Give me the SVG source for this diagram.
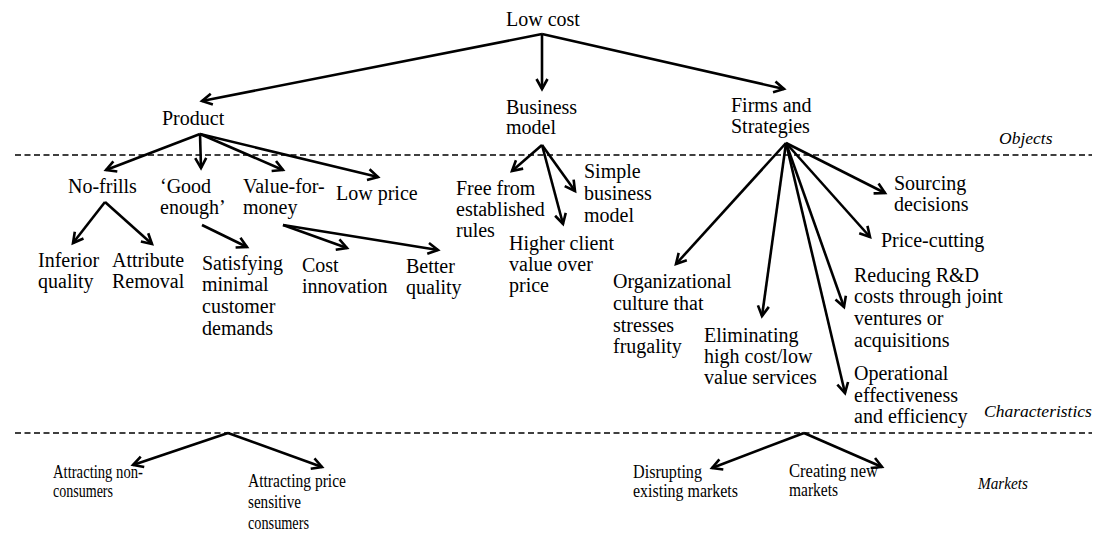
<svg xmlns="http://www.w3.org/2000/svg" width="1097" height="543" viewBox="0 0 1097 543">
<defs>
<style>
text{font-family:"Liberation Serif",serif;font-size:20px;fill:#000}
.it{font-style:italic;font-size:17.5px}
.b{font-size:19px}
.c line{stroke:#000;stroke-width:2.6;marker-end:url(#ah)}
.d{stroke:#000;stroke-width:1.3;stroke-dasharray:6 3.5}
</style>
<marker id="ah" markerUnits="userSpaceOnUse" markerWidth="14" markerHeight="14" refX="11" refY="6" orient="auto" overflow="visible">
<path d="M1,0.5 L11,6 L1,11.5" fill="none" stroke="#000" stroke-width="2.6" stroke-linejoin="miter"/>
</marker>
</defs>
<rect width="1097" height="543" fill="#fff"/>
<line class="d" x1="15" y1="155" x2="1092" y2="155"/>
<line class="d" x1="15" y1="433" x2="1092" y2="433"/>
<g font-family="Liberation Serif, serif">
<g id="lowcost"><text x="506" y="26">Low cost</text></g>
<g id="product"><text x="162" y="125">Product</text></g>
<g id="business"><text x="506" y="114">Business</text><text x="506" y="134">model</text></g>
<g id="firms"><text x="731" y="112">Firms and</text><text x="731" y="133">Strategies</text></g>
<g id="objects"><text class="it" x="999" y="144">Objects</text></g>
<g id="characteristics"><text class="it" x="984" y="417">Characteristics</text></g>
<g id="markets-label"><text class="it" x="978" y="489" textLength="50" lengthAdjust="spacingAndGlyphs">Markets</text></g>
<g id="nofrills"><text x="68" y="193">No-frills</text></g>
<g id="goodenough"><text x="160" y="193">‘Good</text><text x="160" y="214">enough’</text></g>
<g id="valueformoney"><text x="243" y="193">Value-for-</text><text x="243" y="214">money</text></g>
<g id="lowprice"><text x="336" y="200">Low price</text></g>
<g id="inferior"><text x="38" y="267">Inferior</text><text x="38" y="288">quality</text></g>
<g id="attribute"><text x="112" y="267">Attribute</text><text x="112" y="288">Removal</text></g>
<g id="satisfying"><text x="202" y="270">Satisfying</text><text x="202" y="291">minimal</text><text x="202" y="313">customer</text><text x="202" y="335">demands</text></g>
<g id="costinnov"><text x="302" y="272">Cost</text><text x="302" y="293">innovation</text></g>
<g id="better"><text x="406" y="273">Better</text><text x="406" y="294">quality</text></g>
<g id="freefrom"><text x="456" y="195">Free from</text><text x="456" y="216">established</text><text x="456" y="237">rules</text></g>
<g id="simple"><text x="584" y="178">Simple</text><text x="584" y="200">business</text><text x="584" y="222">model</text></g>
<g id="higher"><text x="509" y="250">Higher client</text><text x="509" y="271">value over</text><text x="509" y="292">price</text></g>
<g id="sourcing"><text x="894" y="190">Sourcing</text><text x="894" y="211">decisions</text></g>
<g id="pricecut"><text x="881" y="247">Price-cutting</text></g>
<g id="reducing"><text x="854" y="282">Reducing R&amp;D</text><text x="854" y="303">costs through joint</text><text x="854" y="325">ventures or</text><text x="854" y="347">acquisitions</text></g>
<g id="operational"><text x="854" y="380">Operational</text><text x="854" y="402">effectiveness</text><text x="854" y="423">and efficiency</text></g>
<g id="eliminating"><text x="704" y="342">Eliminating</text><text x="704" y="363">high cost/low</text><text x="704" y="384">value services</text></g>
<g id="organizational"><text x="613" y="288">Organizational</text><text x="613" y="310">culture that</text><text x="613" y="332">stresses</text><text x="613" y="353">frugality</text></g>
<g id="nonconsumers"><text class="b" x="53" y="478" textLength="90" lengthAdjust="spacingAndGlyphs">Attracting non-</text><text class="b" x="53" y="497" textLength="60" lengthAdjust="spacingAndGlyphs">consumers</text></g>
<g id="pricesensitive"><text class="b" x="248" y="487" textLength="98" lengthAdjust="spacingAndGlyphs">Attracting price</text><text class="b" x="248" y="508" textLength="53" lengthAdjust="spacingAndGlyphs">sensitive</text><text class="b" x="248" y="529" textLength="61" lengthAdjust="spacingAndGlyphs">consumers</text></g>
<g id="disrupting"><text class="b" x="633" y="478" textLength="69" lengthAdjust="spacingAndGlyphs">Disrupting</text><text class="b" x="633" y="497" textLength="105" lengthAdjust="spacingAndGlyphs">existing markets</text></g>
<g id="creating"><text class="b" x="789" y="477" textLength="89" lengthAdjust="spacingAndGlyphs">Creating new</text><text class="b" x="789" y="496" textLength="49" lengthAdjust="spacingAndGlyphs">markets</text></g>
</g>
<g id="connectors" class="c">
<line x1="542" y1="34" x2="202" y2="101"/>
<line x1="542" y1="34" x2="542" y2="89"/>
<line x1="542" y1="34" x2="784" y2="89"/>
<line x1="200" y1="134" x2="106" y2="170"/>
<line x1="200" y1="134" x2="201" y2="168"/>
<line x1="200" y1="134" x2="283" y2="170"/>
<line x1="200" y1="134" x2="378" y2="177"/>
<line x1="105" y1="202" x2="73" y2="243"/>
<line x1="105" y1="202" x2="152" y2="244"/>
<line x1="202" y1="225" x2="247" y2="247"/>
<line x1="283" y1="225" x2="347" y2="248"/>
<line x1="283" y1="225" x2="438" y2="250"/>
<line x1="542" y1="145" x2="512" y2="171"/>
<line x1="542" y1="145" x2="575" y2="191"/>
<line x1="542" y1="145" x2="563" y2="224"/>
<line x1="786" y1="143" x2="676" y2="264"/>
<line x1="786" y1="143" x2="762" y2="316"/>
<line x1="786" y1="143" x2="845" y2="393"/>
<line x1="786" y1="143" x2="844" y2="307"/>
<line x1="786" y1="143" x2="870" y2="237"/>
<line x1="786" y1="143" x2="885" y2="193"/>
<line x1="228" y1="433" x2="133" y2="465"/>
<line x1="228" y1="433" x2="322" y2="467"/>
<line x1="804" y1="433" x2="712" y2="468"/>
<line x1="804" y1="433" x2="882" y2="467"/>
</g>
</svg>
